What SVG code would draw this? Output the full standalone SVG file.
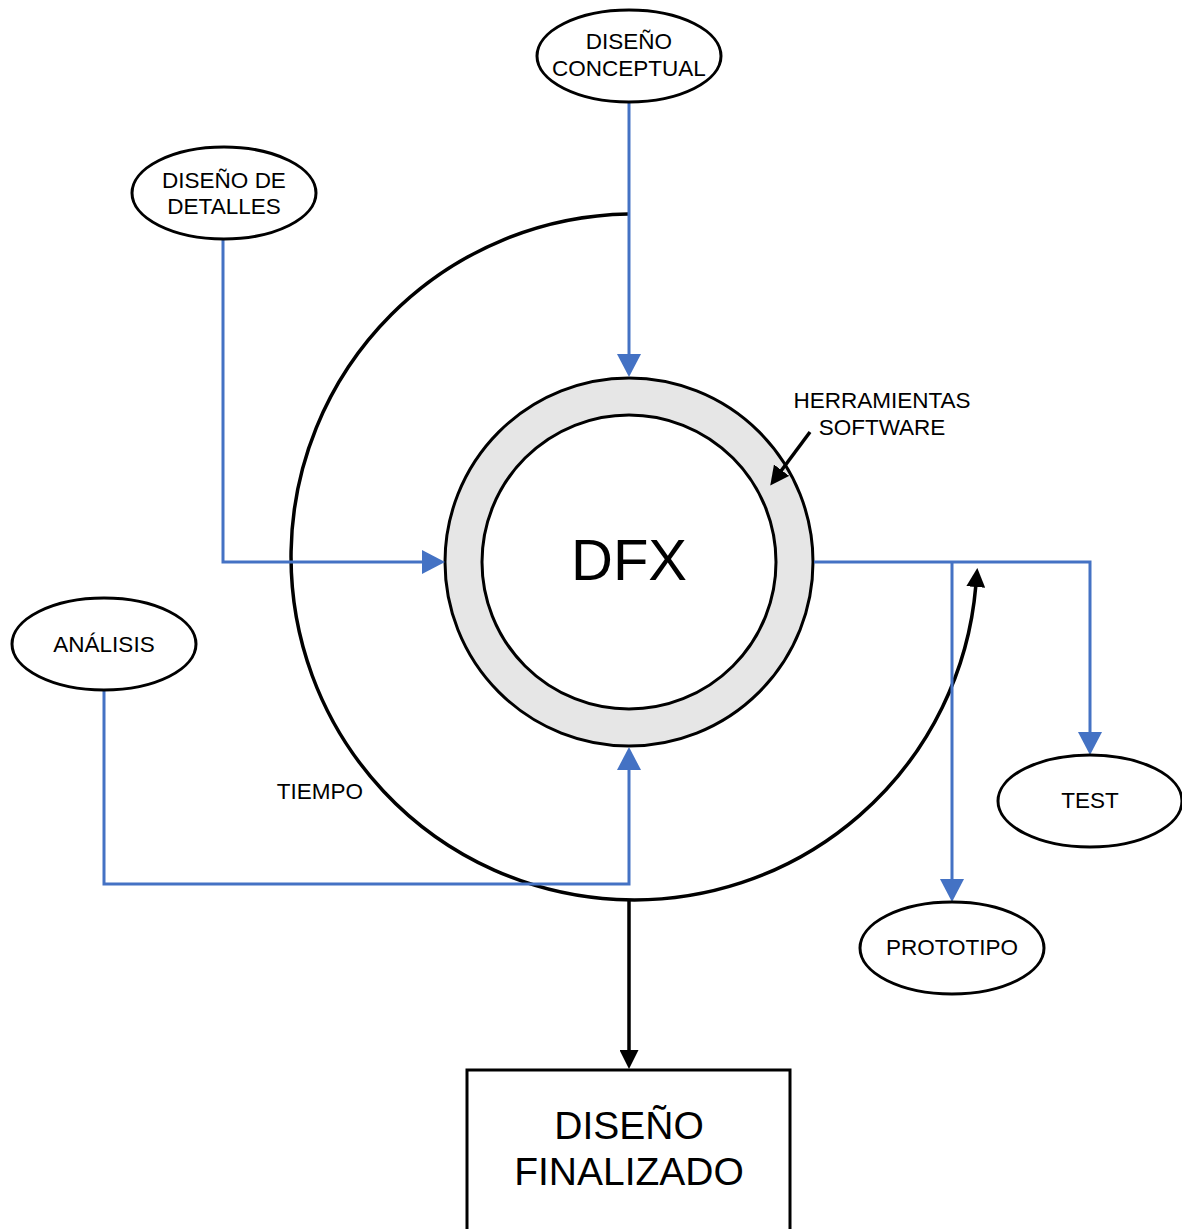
<svg xmlns="http://www.w3.org/2000/svg" width="1182" height="1229" viewBox="0 0 1182 1229">
  <style>
    .node { fill: #ffffff; stroke: #000000; stroke-width: 3; }
    .lbl { font-family: "Liberation Sans", Arial, sans-serif; font-size: 22.5px; fill: #000000; text-anchor: middle; }
    .big { font-family: "Liberation Sans", Arial, sans-serif; font-size: 39px; fill: #000000; text-anchor: middle; }
    .flow { fill: none; stroke: #4472C4; stroke-width: 3; stroke-linejoin: miter; }
    .dark { fill: none; stroke: #000000; stroke-width: 3.5; }
  </style>
  <defs>
    <marker id="arrowBlue" viewBox="0 0 23 24" refX="1" refY="12" markerWidth="23" markerHeight="24" markerUnits="userSpaceOnUse" orient="auto">
      <path d="M0,0 L23,12 L0,24 z" fill="#4472C4"/>
    </marker>
    <marker id="arrowBlack" viewBox="0 0 19 19" refX="1" refY="9.5" markerWidth="19" markerHeight="19" markerUnits="userSpaceOnUse" orient="auto">
      <path d="M0,0 L19,9.5 L0,19 z" fill="#000000"/>
    </marker>
  </defs>

  <rect width="1182" height="1229" fill="#ffffff"/>

  <!-- time arc around the core -->
  <g id="tiempo">
    <path class="dark" d="M 628 214 A 343 343 0 1 0 975.8 586" marker-end="url(#arrowBlack)"/>
    <text class="lbl" x="320" y="799">TIEMPO</text>
  </g>

  <!-- core: DFX with software tools ring -->
  <g id="dfx">
    <circle cx="629" cy="562" r="184" fill="#e6e6e6" stroke="#000000" stroke-width="3"/>
    <circle cx="629" cy="562" r="147" fill="#ffffff" stroke="#000000" stroke-width="3"/>
    <text x="629" y="580" font-family="Liberation Sans, Arial, sans-serif" font-size="58" text-anchor="middle">DFX</text>
  </g>

  <!-- connectors -->
  <g id="connectors">
    <path class="flow" d="M629,102 V355" marker-end="url(#arrowBlue)"/>
    <path class="flow" d="M223,240 V562 H423" marker-end="url(#arrowBlue)"/>
    <path class="flow" d="M104,690 V884 H629 V769" marker-end="url(#arrowBlue)"/>
    <path class="flow" d="M814,562 H1090 V733" marker-end="url(#arrowBlue)"/>
    <path class="flow" d="M952,562 V880" marker-end="url(#arrowBlue)"/>
    <path class="dark" d="M629,900 V1051" marker-end="url(#arrowBlack)"/>
    <path class="dark" d="M810,432 L781,471" marker-end="url(#arrowBlack)"/>
  </g>

  <g id="herramientas">
    <text class="lbl" x="882" y="408">HERRAMIENTAS</text>
    <text class="lbl" x="882" y="435">SOFTWARE</text>
  </g>

  <g id="diseno-conceptual">
    <ellipse class="node" cx="629" cy="56" rx="92" ry="46"/>
    <text class="lbl" x="629" y="49">DISEÑO</text>
    <text class="lbl" x="629" y="76">CONCEPTUAL</text>
  </g>

  <g id="diseno-detalles">
    <ellipse class="node" cx="224" cy="193" rx="92" ry="46"/>
    <text class="lbl" x="224" y="188">DISEÑO DE</text>
    <text class="lbl" x="224" y="214">DETALLES</text>
  </g>

  <g id="analisis">
    <ellipse class="node" cx="104" cy="644" rx="92" ry="46"/>
    <text class="lbl" x="104" y="652">ANÁLISIS</text>
  </g>

  <g id="test">
    <ellipse class="node" cx="1090" cy="801" rx="92" ry="46"/>
    <text class="lbl" x="1090" y="808">TEST</text>
  </g>

  <g id="prototipo">
    <ellipse class="node" cx="952" cy="948" rx="92" ry="46"/>
    <text class="lbl" x="952" y="955">PROTOTIPO</text>
  </g>

  <g id="diseno-finalizado">
    <rect class="node" x="467" y="1070" width="323" height="200"/>
    <text class="big" x="629" y="1139">DISEÑO</text>
    <text class="big" x="629" y="1185">FINALIZADO</text>
  </g>
</svg>
